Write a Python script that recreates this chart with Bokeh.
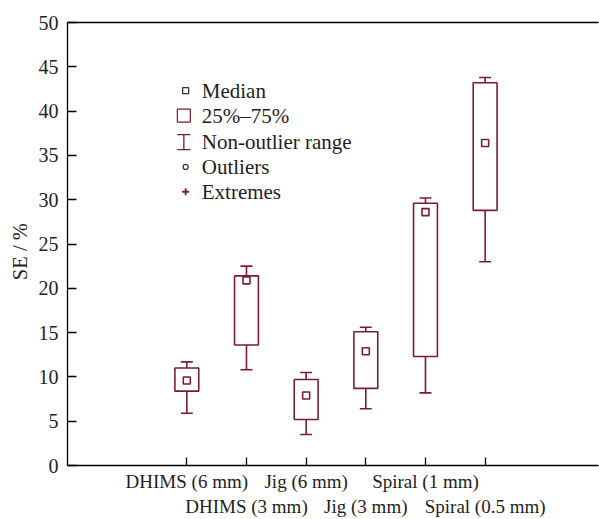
import numpy as np
from bokeh.plotting import figure
from bokeh.models import LinearAxis, FixedTicker, Range1d, Label
from bokeh.embed import file_html
from bokeh.resources import INLINE

# ---- data ----
categories = ["DHIMS (6 mm)", "DHIMS (3 mm)", "Jig (6 mm)", "Jig (3 mm)",
              "Spiral (1 mm)", "Spiral (0.5 mm)"]
positions = [2, 3, 4, 5, 6, 7]
whisker_low = [5.9, 10.8, 3.5, 6.4, 8.2, 23.0]
q1 = [8.4, 13.6, 5.2, 8.7, 12.3, 28.8]
median = [9.6, 20.9, 7.9, 12.9, 28.6, 36.4]
q3 = [11.0, 21.4, 9.7, 15.1, 29.6, 43.2]
whisker_high = [11.7, 22.5, 10.5, 15.6, 30.2, 43.8]
y_ticks = [0, 5, 10, 15, 20, 25, 30, 35, 40, 45, 50]
legend_labels = ["Median", "25%\u201375%", "Non-outlier range", "Outliers", "Extremes"]
y_title = "SE / %"

COLOR = "#7a1d34"
FONT = "Liberation Serif"
TEXT = "#1e1e1e"

p = figure(width=599, height=519, output_backend="svg", toolbar_location=None,
           x_range=Range1d(0, 8.9), y_range=Range1d(0, 50),
           x_axis_location=None, y_axis_location=None,
           min_border_left=67, min_border_right=1, min_border_top=22,
           min_border_bottom=53)
p.outline_line_color = None
p.xgrid.visible = False
p.ygrid.visible = False
p.background_fill_color = "white"
p.border_fill_color = "white"

# y axis
yax = LinearAxis(ticker=FixedTicker(ticks=y_ticks), axis_label=y_title + "\u00a0\u00a0\u00a0")
yax.major_tick_in = 9
yax.major_tick_out = 0
yax.minor_tick_line_color = None
yax.major_label_standoff = 9
yax.major_label_text_font = FONT
yax.major_label_text_font_size = "20px"
yax.major_label_text_color = TEXT
yax.axis_label_text_font = FONT
yax.axis_label_text_font_size = "20.5px"
yax.axis_label_text_font_style = "normal"
yax.axis_label_text_color = TEXT
yax.axis_label_standoff = 5
yax.axis_line_width = 1.3
yax.major_tick_line_width = 1.3
p.add_layout(yax, "left")

# x axis (two staggered label rows)
ov1 = {pos: (lab if i % 2 == 0 else "") for i, (pos, lab) in enumerate(zip(positions, categories))}
ov2 = {pos: (lab if i % 2 == 1 else "") for i, (pos, lab) in enumerate(zip(positions, categories))}
xax1 = LinearAxis(ticker=FixedTicker(ticks=positions), major_label_overrides=ov1)
xax1.major_tick_in = 8
xax1.major_tick_out = 0
xax1.minor_tick_line_color = None
xax1.major_label_standoff = 5
xax1.axis_line_width = 1.3
xax1.major_tick_line_width = 1.3
xax2 = LinearAxis(ticker=FixedTicker(ticks=positions), major_label_overrides=ov2)
xax2.axis_line_color = None
xax2.major_tick_line_color = None
xax2.minor_tick_line_color = None
xax2.major_tick_in = 0
xax2.major_tick_out = 0
xax2.major_label_standoff = 1
for ax in (xax1, xax2):
    ax.major_label_text_font = FONT
    ax.major_label_text_font_size = "19px"
    ax.major_label_text_color = TEXT
p.add_layout(xax1, "below")
p.add_layout(xax2, "below")

# top line
top = LinearAxis(ticker=FixedTicker(ticks=[]))
top.major_tick_in = 0
top.major_tick_out = 0
top.minor_tick_line_color = None
top.major_label_text_font_size = "0px"
top.major_label_standoff = 0
top.axis_line_width = 1.3
p.add_layout(top, "above")

# ---- boxes ----
pos = np.array(positions, dtype=float)
cap = 0.1
p.segment(x0=pos, y0=np.array(q3), x1=pos, y1=np.array(whisker_high), line_color=COLOR, line_width=1.6)
p.segment(x0=pos, y0=np.array(q1), x1=pos, y1=np.array(whisker_low), line_color=COLOR, line_width=1.6)
p.segment(x0=pos - cap, y0=np.array(whisker_high), x1=pos + cap, y1=np.array(whisker_high), line_color=COLOR, line_width=1.6)
p.segment(x0=pos - cap, y0=np.array(whisker_low), x1=pos + cap, y1=np.array(whisker_low), line_color=COLOR, line_width=1.6)
p.vbar(x=pos, width=0.4, bottom=q1, top=q3, fill_color="white", line_color=COLOR, line_width=1.6)
p.scatter(x=pos, y=median, marker="square", size=7, fill_color="white", line_color=COLOR, line_width=1.6)

# ---- legend (drawn manually) ----
lx = 1.98
ly = [42.3, 39.5, 36.5, 33.7, 30.9]
p.scatter(x=[lx], y=[ly[0]], marker="square", size=6, fill_color="white", line_color="#333333", line_width=1.3)
p.scatter(x=[lx - 0.03], y=[ly[1]], marker="square", size=13, fill_color="white", line_color=COLOR, line_width=1.2)
ih = 0.85
iw = 0.11
p.segment(x0=[lx - 0.03], y0=[ly[2] - ih], x1=[lx - 0.03], y1=[ly[2] + ih], line_color=COLOR, line_width=1.3)
p.segment(x0=[lx - 0.03 - iw, lx - 0.03 - iw], y0=[ly[2] - ih, ly[2] + ih],
          x1=[lx - 0.03 + iw, lx - 0.03 + iw], y1=[ly[2] - ih, ly[2] + ih], line_color=COLOR, line_width=1.3)
p.scatter(x=[lx], y=[ly[3]], marker="circle", size=5, fill_color="white", line_color="#333333", line_width=1.3)
p.scatter(x=[lx], y=[ly[4]], marker="cross", size=7, line_color=COLOR, line_width=1.8)
for lab, yy in zip(legend_labels, ly):
    p.add_layout(Label(x=2.25, y=yy, text=lab, text_font=FONT, text_font_size="21px",
                       text_color=TEXT, text_baseline="middle", text_align="left"))

open("out.html", "w").write(file_html(p, INLINE))
